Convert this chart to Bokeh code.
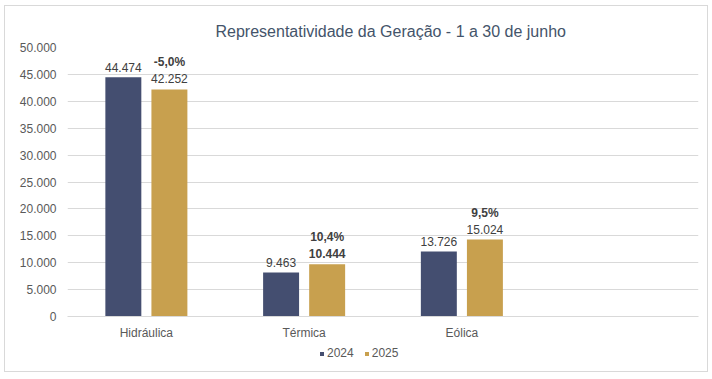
from bokeh.plotting import figure
from bokeh.layouts import column
from bokeh.models import ColumnDataSource, FactorRange, Legend, LegendItem, CustomJSTickFormatter, FixedTicker
from bokeh.transform import dodge
from bokeh.core.properties import value
from bokeh.embed import file_html
from bokeh.resources import INLINE

categories = ["Hidráulica", "Térmica", "Eólica"]
bars_2024 = [44474, 8200, 12100]
bars_2025 = [42200, 9700, 14300]
labels_2024 = ["44.474", "9.463", "13.726"]
labels_2025 = ["42.252", "10.444", "15.024"]
variation = ["-5,0%", "10,4%", "9,5%"]
style_2025 = ["normal", "bold", "normal"]
y_ticks = [0, 5000, 10000, 15000, 20000, 25000, 30000, 35000, 40000, 45000, 50000]
series = ["2024", "2025"]

C24 = "#444E70"
C25 = "#C8A04E"
FONT = "Liberation Sans"
W = 702

src = ColumnDataSource(dict(cat=categories, v24=bars_2024, v25=bars_2025,
                            l24=labels_2024, l25=labels_2025, var=variation, s25=style_2025))

factors = categories + [" "]
p = figure(x_range=FactorRange(*factors, range_padding=0, factor_padding=0),
           y_range=(0, 50000), width=W, height=336,
           output_backend="svg", toolbar_location=None,
           min_border_left=62, min_border_right=9, min_border_top=41, min_border_bottom=26)

r24 = p.vbar(x=dodge("cat", -0.146, range=p.x_range), top="v24", width=0.228, source=src,
             fill_color=C24, line_color=None)
r25 = p.vbar(x=dodge("cat", 0.146, range=p.x_range), top="v25", width=0.228, source=src,
             fill_color=C25, line_color=None)

p.text(x=dodge("cat", -0.146, range=p.x_range), y="v24", text="l24", source=src,
       text_align="center", text_baseline="bottom", y_offset=-5,
       text_font=value(FONT), text_font_size="12px", text_color="#404040")
p.text(x=dodge("cat", 0.146, range=p.x_range), y="v25", text="l25", source=src,
       text_align="center", text_baseline="bottom", y_offset=-6, text_font_style="s25",
       text_font=value(FONT), text_font_size="12px", text_color="#404040")
p.text(x=dodge("cat", 0.146, range=p.x_range), y="v25", text="var", source=src,
       text_align="center", text_baseline="bottom", y_offset=-20, text_font_style="bold",
       text_font=value(FONT), text_font_size="12px", text_color="#404040")

p.title.text = "Representatividade da Geração -  1 a 30 de junho"
p.title.align = "left"
p.title.offset = 148
p.title.text_font = FONT
p.title.text_font_size = "16px"
p.title.text_font_style = "normal"
p.title.text_color = "#44546A"
p.title.standoff = 15

p.yaxis.ticker = FixedTicker(ticks=y_ticks)
p.yaxis.formatter = CustomJSTickFormatter(code="return Math.round(tick).toString().replace(/\\B(?=(\\d{3})+(?!\\d))/g, '.');")
for ax in (p.xaxis[0], p.yaxis[0]):
    ax.major_tick_line_color = None
    ax.minor_tick_line_color = None
    ax.major_label_text_font = FONT
    ax.major_label_text_font_size = "12px"
    ax.major_label_text_color = "#595959"
p.yaxis.axis_line_color = None
p.yaxis.major_label_standoff = 5
p.xaxis.axis_line_color = "#D9D9D9"
p.xaxis.major_label_standoff = 3

p.xgrid.grid_line_color = None
p.ygrid.grid_line_color = "#D9D9D9"
p.outline_line_color = None

# legend strip below the chart (legend keys use zero-size proxy bars)
lf = figure(width=W, height=29, output_backend="svg", toolbar_location=None,
            x_range=(0, 1), y_range=(0, 1), min_border=0)
lf.axis.visible = False
lf.grid.grid_line_color = None
lf.outline_line_color = None
proxy = ColumnDataSource(dict(x=[0.5], top=[0]))
d24 = lf.vbar(x="x", top="top", bottom=0, width=0, source=proxy, fill_color=C24, line_color=None)
d25 = lf.vbar(x="x", top="top", bottom=0, width=0, source=proxy, fill_color=C25, line_color=None)
legend = Legend(items=[LegendItem(label=series[0], renderers=[d24]), LegendItem(label=series[1], renderers=[d25])],
                orientation="horizontal", location=(252, 11), padding=0, margin=0, spacing=10,
                glyph_width=5, glyph_height=5, label_standoff=3, label_height=14,
                label_text_font=FONT, label_text_font_size="12px", label_text_color="#595959",
                border_line_color=None, background_fill_alpha=0)
lf.add_layout(legend, "center")

layout = column(p, lf, spacing=0)
layout.styles = {"border": "1px solid #D9D9D9", "margin-left": "4px", "margin-top": "5px"}

open("out.html", "w").write(file_html(layout, INLINE))
